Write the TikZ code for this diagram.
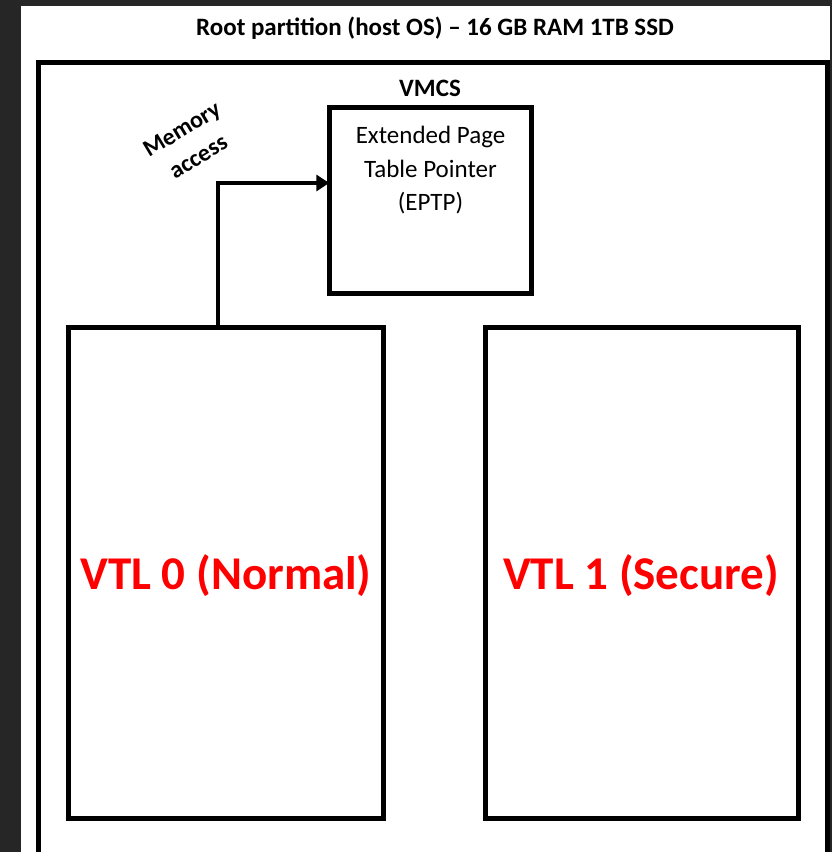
\documentclass[tikz,border=0pt]{standalone}
\usepackage{fontspec}
\setmainfont{Carlito}
\usetikzlibrary{arrows.meta}
\definecolor{bgdark}{HTML}{262626}
\definecolor{vtlred}{HTML}{FF0000}
\tikzset{
  box/.style={draw=black, line width=5pt, fill=white},
  conn/.style={draw=black, line width=4.5pt, -{Triangle[length=13pt,width=16pt]}},
  vtltext/.style={font=\bfseries\fontsize{47}{52}\selectfont, text=vtlred},
}
\begin{document}
\begin{tikzpicture}[x=1pt,y=1pt]
\useasboundingbox (0,0) rectangle (832,852);
\fill[bgdark] (0,0) rectangle (832,852);
\fill[white] (21,0) rectangle (830,846);
% outer root partition box (bottom cut off)
\draw[line width=5pt] (38.5,-10) -- (38.5,789.5) -- (827.5,789.5) -- (827.5,-10);
\node[font=\bfseries\fontsize{25}{30}\selectfont] (title) at (435,824) {Root partition (host OS) – 16 GB RAM 1TB SSD};
% VMCS / EPTP
\node[font=\bfseries\fontsize{25}{30}\selectfont] (vmcs) at (430,764) {VMCS};
\draw[box] (329.5,744.5) rectangle (531.5,558);
\node[minimum width=202pt, minimum height=186.5pt, inner sep=0pt] (eptp) at (430.5,651.25) {};
\node[align=center, font=\fontsize{25}{33.5}\selectfont, anchor=north] (eptptext) at (430.5,729) {Extended Page\\Table Pointer\\(EPTP)};
% VTL boxes
\draw[box] (68.5,524.5) rectangle (383,33);
\node[vtltext] (vtl0text) at (226,276) {VTL 0 (Normal)};
\draw[box] (485,524.5) rectangle (798,33);
\node[vtltext] (vtl1text) at (641,276) {VTL 1 (Secure)};
% arrow
\coordinate (start) at (218,527);
\coordinate (elbow) at (218,669);
\draw[conn] (start) -- (elbow) -- (eptp.west |- elbow);
\node[font=\bfseries\fontsize{24}{32}\selectfont, rotate=31, align=center] (mem) at (190,709) {Memory\\access};
\end{tikzpicture}
\end{document}
